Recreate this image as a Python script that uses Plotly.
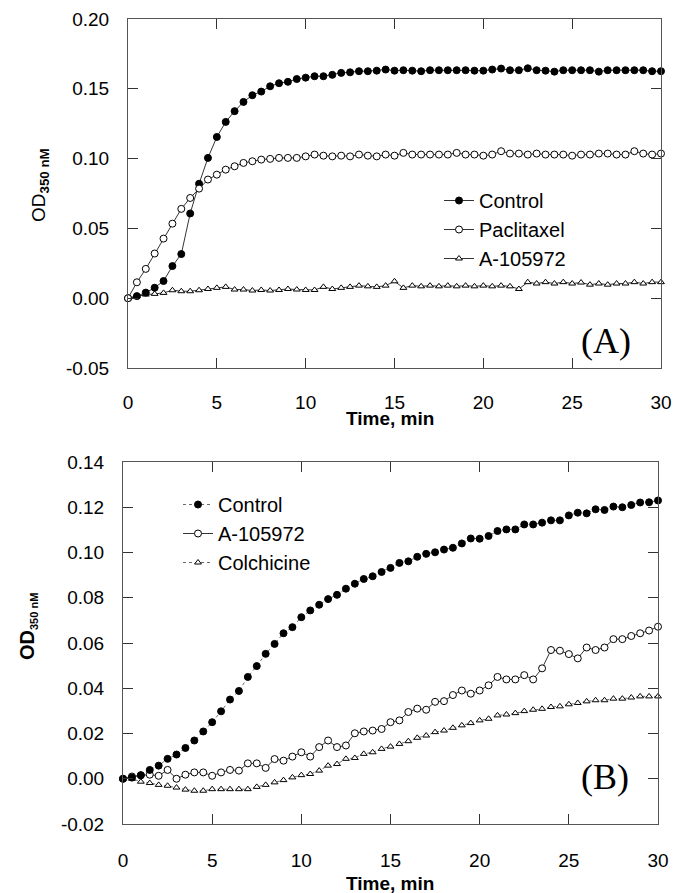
import plotly.graph_objects as go

# ---------------- data ----------------
time = [0, 0.5, 1, 1.5, 2, 2.5, 3, 3.5, 4, 4.5, 5, 5.5, 6, 6.5, 7, 7.5, 8, 8.5, 9, 9.5,
        10, 10.5, 11, 11.5, 12, 12.5, 13, 13.5, 14, 14.5, 15, 15.5, 16, 16.5, 17, 17.5,
        18, 18.5, 19, 19.5, 20, 20.5, 21, 21.5, 22, 22.5, 23, 23.5, 24, 24.5, 25, 25.5,
        26, 26.5, 27, 27.5, 28, 28.5, 29, 29.5, 30]

# Panel A
control_a = [0.0, 0.0015, 0.004, 0.0075, 0.0123, 0.023, 0.0316, 0.0607, 0.082, 0.1005,
             0.1155, 0.1263, 0.134, 0.1406, 0.1454, 0.148, 0.1518, 0.154, 0.155, 0.157,
             0.158, 0.159, 0.159, 0.160,
             0.1614, 0.1618, 0.1626, 0.1626, 0.163, 0.1638, 0.163, 0.1633, 0.163, 0.1626,
             0.1633, 0.1633, 0.1633, 0.1633, 0.1633, 0.163, 0.163, 0.1638, 0.1645, 0.1633,
             0.1633, 0.1647, 0.1633, 0.163, 0.1623, 0.1633, 0.1633, 0.1633, 0.1633, 0.1623,
             0.1633, 0.1633, 0.1633, 0.1633, 0.1633, 0.1626, 0.1626]
paclitaxel_a = [0.0, 0.0114, 0.021, 0.032, 0.0427, 0.0534, 0.064, 0.0718, 0.0785, 0.085,
                0.0885, 0.0921, 0.0945, 0.0969, 0.0981, 0.0993, 0.0998, 0.1005, 0.1005, 0.1005,
                0.1016, 0.1029, 0.1021, 0.1016,
                0.1021, 0.1016, 0.1029, 0.1021, 0.1016, 0.1029, 0.1021, 0.1041, 0.1029, 0.1029,
                0.1029, 0.1029, 0.1029, 0.1041, 0.1029, 0.1029, 0.1021, 0.1029, 0.1053, 0.1036,
                0.1036, 0.1029, 0.1036, 0.1029, 0.1029, 0.1029, 0.1021, 0.1029, 0.1029, 0.1036,
                0.1036, 0.1029, 0.1029, 0.1053, 0.1036, 0.1029, 0.1036]
a105972_a = [0.0, 0.0014, 0.0026, 0.0031, 0.0038, 0.0057, 0.005, 0.005, 0.0057, 0.0066,
             0.0074, 0.0081, 0.0062, 0.0062, 0.0055, 0.0059, 0.0055, 0.0059, 0.0066, 0.0062,
             0.0059, 0.0059, 0.0081, 0.0066,
             0.0074, 0.0081, 0.009, 0.0085, 0.0081, 0.009, 0.0121, 0.0074, 0.009, 0.0085,
             0.009, 0.0085, 0.009, 0.0085, 0.009, 0.0085, 0.009, 0.0085, 0.009, 0.0085,
             0.0066, 0.0115, 0.0105, 0.0115, 0.0105, 0.0115, 0.0105, 0.0112, 0.0097, 0.0105,
             0.0097, 0.0105, 0.0105, 0.0115, 0.0105, 0.0115, 0.0115]

# Panel B
control_b = [0.0, 0.0005, 0.0016, 0.0039, 0.0058, 0.0088, 0.0107, 0.0136, 0.0169, 0.0209,
             0.025, 0.0298, 0.035, 0.0388, 0.045, 0.0498, 0.0552, 0.0596, 0.0643, 0.067,
             0.0714, 0.0744, 0.0769, 0.0794, 0.0813, 0.084, 0.0862, 0.0883, 0.0895, 0.0914,
             0.0932, 0.0954, 0.0961, 0.0981, 0.0994, 0.1001, 0.1013, 0.1021, 0.104, 0.1062,
             0.1061, 0.1073, 0.1095, 0.1102, 0.1102, 0.1124, 0.1124, 0.1132, 0.1142, 0.1142,
             0.1164, 0.1176, 0.1173, 0.1191, 0.1188, 0.1203, 0.12, 0.121, 0.1221, 0.1222,
             0.123]
a105972_b = [0.0, 0.001, 0.0015, 0.0018, 0.0013, 0.0039, 0.0, 0.0018, 0.0028, 0.0028,
             0.0013, 0.0028, 0.0039, 0.0036, 0.0068, 0.0068, 0.0048, 0.0087, 0.008, 0.0098,
             0.0117, 0.0098, 0.014, 0.0169, 0.014, 0.0147, 0.0201, 0.0209, 0.0213, 0.022,
             0.025, 0.0258, 0.0295, 0.031, 0.0305, 0.034, 0.0343, 0.037, 0.039, 0.0376,
             0.039, 0.0413, 0.045, 0.0439, 0.0439, 0.0458, 0.0439, 0.0488, 0.0569, 0.0566,
             0.0551, 0.0532, 0.058, 0.0569, 0.058, 0.0617, 0.0617, 0.0631, 0.0643, 0.0655,
             0.0672]
colchicine_b = [0.0, 0.0, -0.0013, -0.0019, -0.0027, -0.0031, -0.0039, -0.0048, -0.0053, -0.0053,
                -0.0046, -0.0046, -0.0046, -0.0046, -0.0046, -0.0036, -0.0027, -0.0016, -0.0006, 0.0006,
                0.0016, 0.0021, 0.0036, 0.0058, 0.0065, 0.0088, 0.0092, 0.011, 0.0117, 0.0132,
                0.0142, 0.0154, 0.0166, 0.0181, 0.0191, 0.0206, 0.0213, 0.0225, 0.0236, 0.0246,
                0.0258, 0.0265, 0.028, 0.0284, 0.029, 0.0299, 0.0305, 0.0309, 0.0317, 0.032,
                0.0329, 0.0335, 0.0342, 0.0347, 0.0347, 0.0354, 0.0354, 0.0359, 0.0364, 0.0364,
                0.0364]

x_ticks = [0, 5, 10, 15, 20, 25, 30]
x_ticktext = ["0", "5", "10", "15", "20", "25", "30"]
ya_ticks = [-0.05, 0.0, 0.05, 0.10, 0.15, 0.20]
ya_ticktext = ["-0.05", "0.00", "0.05", "0.10", "0.15", "0.20"]
yb_ticks = [-0.02, 0.0, 0.02, 0.04, 0.06, 0.08, 0.10, 0.12, 0.14]
yb_ticktext = ["-0.02", "0.00", "0.02", "0.04", "0.06", "0.08", "0.10", "0.12", "0.14"]

# ---------------- figure ----------------
W, H = 673, 893
FONT = "Arial, Liberation Sans, sans-serif"
SERIF = "Liberation Serif, Times New Roman, serif"

fig = go.Figure()

filled = dict(symbol="circle", size=7, color="black", line=dict(color="black", width=1))
hollow = dict(symbol="circle", size=7, color="white", line=dict(color="black", width=1))
tri = dict(symbol="triangle-up", size=6, color="white", line=dict(color="black", width=1))

# Panel A traces
fig.add_trace(go.Scatter(x=time, y=a105972_a, name="A-105972", mode="lines+markers",
                         line=dict(color="black", width=0.8), marker=tri,
                         xaxis="x", yaxis="y", legend="legend", legendrank=3, cliponaxis=False))
fig.add_trace(go.Scatter(x=time, y=control_a, name="Control", mode="lines+markers",
                         line=dict(color="black", width=0.8), marker=filled,
                         xaxis="x", yaxis="y", legend="legend", legendrank=1, cliponaxis=False))
fig.add_trace(go.Scatter(x=time, y=paclitaxel_a, name="Paclitaxel", mode="lines+markers",
                         line=dict(color="black", width=0.8), marker=hollow,
                         xaxis="x", yaxis="y", legend="legend", legendrank=2, cliponaxis=False))

# Panel B traces
fig.add_trace(go.Scatter(x=time, y=colchicine_b, name="Colchicine", mode="lines+markers",
                         line=dict(color="#444", width=0.8, dash="dot"), marker=tri,
                         xaxis="x2", yaxis="y2", legend="legend2", legendrank=3, cliponaxis=False))
fig.add_trace(go.Scatter(x=time, y=a105972_b, name="A-105972", mode="lines+markers",
                         line=dict(color="black", width=0.8), marker=hollow,
                         xaxis="x2", yaxis="y2", legend="legend2", legendrank=2, cliponaxis=False))
fig.add_trace(go.Scatter(x=time, y=control_b, name="Control", mode="lines+markers",
                         line=dict(color="#444", width=0.8, dash="dot"), marker=filled,
                         xaxis="x2", yaxis="y2", legend="legend2", legendrank=1, cliponaxis=False))

axis_common = dict(showline=True, linecolor="#555", linewidth=1, mirror="ticks",
                   ticks="inside", ticklen=10, tickwidth=1, tickcolor="#333",
                   showgrid=False, zeroline=False, automargin=False,
                   tickfont=dict(family=FONT, size=19, color="black"))

def px_x(a, b):
    return [a / W, b / W]

def px_y(top, bottom):
    return [(H - bottom) / H, (H - top) / H]

def py(p):
    return (H - p) / H

fig.update_layout(
    width=W, height=H,
    margin=dict(l=0, r=0, t=0, b=0, autoexpand=False),
    paper_bgcolor="white", plot_bgcolor="white",
    font=dict(family=FONT, color="black"),
    xaxis=dict(axis_common, domain=px_x(128, 661), range=[0, 30], anchor="y",
               tickvals=x_ticks, ticktext=x_ticktext, ticklabelstandoff=17),
    yaxis=dict(axis_common, domain=px_y(19, 368), range=[-0.05, 0.20], anchor="x",
               tickvals=ya_ticks, ticktext=ya_ticktext, ticklabelstandoff=14),
    xaxis2=dict(axis_common, domain=px_x(123, 658), range=[0, 30], anchor="y2",
                tickvals=x_ticks, ticktext=x_ticktext, ticklabelstandoff=19),
    yaxis2=dict(axis_common, domain=px_y(462, 824), range=[-0.02, 0.14], anchor="x2",
                tickvals=yb_ticks, ticktext=yb_ticktext, ticklabelstandoff=14),
    legend=dict(x=439 / W, y=py(181), xanchor="left", yanchor="top",
                font=dict(family=FONT, size=20), bgcolor="rgba(0,0,0,0)",
                tracegroupgap=0, itemwidth=30),
    legend2=dict(x=178 / W, y=py(485), xanchor="left", yanchor="top",
                 font=dict(family=FONT, size=20), bgcolor="rgba(0,0,0,0)",
                 tracegroupgap=0, itemwidth=30),
    annotations=[
        # axis titles
        dict(text="<b>Time, min</b>", x=390 / W, y=py(419), xref="paper", yref="paper",
             xanchor="center", yanchor="middle", showarrow=False,
             font=dict(family=FONT, size=19, color="black")),
        dict(text="<b>Time, min</b>", x=390 / W, y=py(883), xref="paper", yref="paper",
             xanchor="center", yanchor="middle", showarrow=False,
             font=dict(family=FONT, size=19, color="black")),
        dict(text="OD<sub><b>350 nM</b></sub>", x=40 / W, y=py(185), xref="paper", yref="paper",
             xanchor="center", yanchor="middle", textangle=-90, showarrow=False,
             font=dict(family=FONT, size=19, color="black")),
        dict(text="<b>OD<sub><span style='font-size:11px'>350 nM</span></sub></b>",
             x=28 / W, y=py(627), xref="paper", yref="paper",
             xanchor="center", yanchor="middle", textangle=-90, showarrow=False,
             font=dict(family=FONT, size=20, color="black")),
        # panel labels
        dict(text="(A)", x=26.9, y=-0.031, xref="x", yref="y", showarrow=False,
             font=dict(family=SERIF, size=36, color="black")),
        dict(text="(B)", x=27.0, y=0.0006, xref="x2", yref="y2", showarrow=False,
             font=dict(family=SERIF, size=36, color="black")),
    ],
)

fig.write_html("out.html", config={"displayModeBar": False},
               post_script="document.body.style.margin='0px';")
